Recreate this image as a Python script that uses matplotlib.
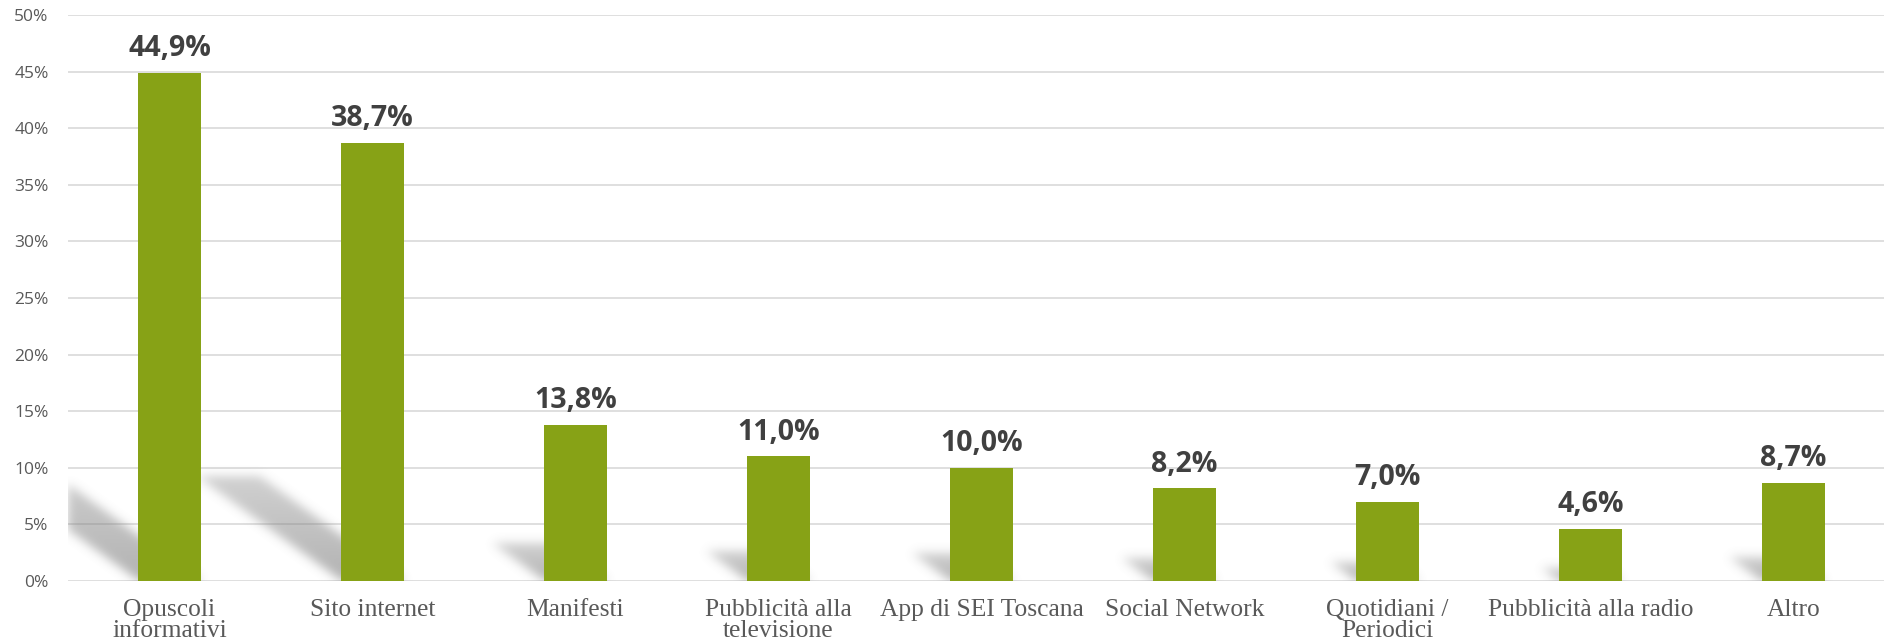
import numpy as np
import matplotlib.pyplot as plt
from matplotlib.ticker import FuncFormatter

categories = ['Opuscoli\ninformativi', 'Sito internet', 'Manifesti',
              'Pubblicità alla\ntelevisione', 'App di SEI Toscana',
              'Social Network', 'Quotidiani /\nPeriodici',
              'Pubblicità alla radio', 'Altro']
values = [44.9, 38.7, 13.8, 11.0, 10.0, 8.2, 7.0, 4.6, 8.7]
value_labels = ['44,9%', '38,7%', '13,8%', '11,0%', '10,0%',
                '8,2%', '7,0%', '4,6%', '8,7%']

bar_color = '#87A216'
bar_w = 0.31

fig = plt.figure(figsize=(18.84, 6.41), dpi=100)
ax = fig.add_axes([68 / 1884, 60 / 641, 1827 / 1884, 566 / 641])

x = np.arange(len(categories))
xmin, xmax = -0.5, len(categories) - 0.5
ymin, ymax = 0, 50

# soft perspective shadows: mask of parallelograms, blurred
nx, ny = 1827, 566
gx = np.linspace(xmin, xmax, nx)
gy = np.linspace(ymin, ymax, ny)
X, Y = np.meshgrid(gx, gy)
mask = np.zeros_like(X)
for xi, v in zip(x, values):
    dy = 0.24 * v
    dx = 0.0185 * v
    t = np.clip(Y / dy, 0, None)
    inside = (Y <= dy) & (X >= xi - bar_w / 2 - dx * t) & (X <= xi + bar_w / 2 - dx * t)
    mask = np.maximum(mask, inside * (1 - 0.4 * t))

sig = 5.0
k = np.arange(-15, 16)
kern = np.exp(-k**2 / (2 * sig**2))
kern /= kern.sum()
mask = np.apply_along_axis(lambda r: np.convolve(r, kern, mode='same'), 1, mask)
mask = np.apply_along_axis(lambda c: np.convolve(c, kern, mode='same'), 0, mask)

rgba = np.zeros((ny, nx, 4))
rgba[..., :3] = 0.5
rgba[..., 3] = mask * 0.6
ax.imshow(rgba, extent=(xmin, xmax, ymin, ymax), origin='lower',
          aspect='auto', interpolation='bilinear', zorder=1.5)

ax.bar(x, values, width=bar_w, color=bar_color, zorder=2)

for xi, v, lab in zip(x, values, value_labels):
    ax.annotate(lab, (xi, v), xytext=(0, 12), textcoords='offset points',
                ha='center', va='baseline', fontsize=20.5, fontweight='bold',
                family='Open Sans', color='#404040')

ax.set_xlim(xmin, xmax)
ax.set_ylim(ymin, ymax)
ax.set_yticks(np.arange(0, 51, 5))
ax.yaxis.set_major_formatter(FuncFormatter(lambda v, p: f'{v:.0f}%'))
ax.set_xticks(x)
ax.set_xticklabels(categories, family='Liberation Serif', fontsize=18.4,
                   color='#595959', linespacing=0.92)
for t in ax.get_yticklabels():
    t.set_family('Open Sans')
    t.set_fontsize(12.5)
    t.set_color('#595959')
ax.tick_params(axis='both', length=0)
ax.tick_params(axis='y', pad=14)
ax.tick_params(axis='x', pad=13)

ax.grid(axis='y', color='#D9D9D9', linewidth=1.2, zorder=1)
ax.set_axisbelow(True)
for s in ax.spines.values():
    s.set_visible(False)

fig.savefig('out.png', dpi=100)
